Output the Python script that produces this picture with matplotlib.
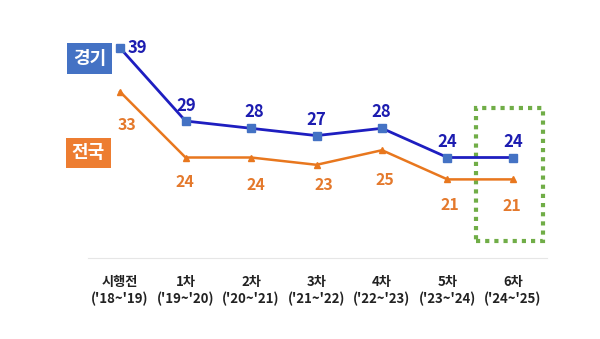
import matplotlib.pyplot as plt
from matplotlib.patches import Rectangle

plt.rcParams['font.family'] = ['Noto Sans CJK KR', 'DejaVu Sans']

#Data
periods = ['시행전', '1차', '2차', '3차', '4차', '5차', '6차']
years = ["('18~'19)", "('19~'20)", "('20~'21)", "('21~'22)", "('22~'23)", "('23~'24)", "('24~'25)"]
gyeonggi = [39, 29, 28, 27, 28, 24, 24]
national = [33, 24, 24, 23, 25, 21, 21]

#label offsets in pixels
gg_off = [(17, 0), (1, 15), (3, 16), (0, 16), (-1, 16), (0, 16), (0, 16)]
nat_off = [(7, -33), (-1, -24), (5, -27), (7, -20), (3, -30), (2, -26), (-1, -27)]

fig = plt.figure(figsize=(6, 3.39), dpi=100)
ax = fig.add_axes([88/600, 81/339, 459/600, 238/339])

x = list(range(len(periods)))
ax.plot(x, gyeonggi, color='#1e1ec0', lw=2, marker='s', ms=5.5,
        mfc='#4472C4', mec='#4472C4', zorder=3)
ax.plot(x, national, color='#E8771E', lw=1.8, marker='^', ms=5,
        mfc='#E8771E', mec='#E8771E', zorder=3)

for i in x:
    ax.annotate(str(gyeonggi[i]), (i, gyeonggi[i]), xytext=gg_off[i], textcoords='offset pixels',
                ha='center', va='center', fontsize=12, fontweight='bold', color='#1c1cb0')
    ax.annotate(str(national[i]), (i, national[i]), xytext=nat_off[i], textcoords='offset pixels',
                ha='center', va='center', fontsize=11.5, fontweight='bold', color='#E4792C')

ax.set_xlim(-0.49, 6.52)
ax.set_ylim(10.23, 42.84)
ax.set_yticks([])
ax.set_xticks(x)
ax.set_xticklabels([p + '\n' + y for p, y in zip(periods, years)], fontsize=9.5,
                   fontweight='bold', color='#222222', linespacing=1.25)
ax.tick_params(axis='x', length=0, pad=12)
for s in ['top', 'left', 'right']:
    ax.spines[s].set_visible(False)
ax.spines['bottom'].set_color('#e6e6e6')
ax.spines['bottom'].set_linewidth(0.8)

#highlight last period
last = len(periods) - 1
ax.add_patch(Rectangle((last - 0.565, 12.56), 1.02, 18.22, fill=False,
                       ec='#70AD47', lw=3, ls=(0, (1, 1.2)), zorder=2))

#series name boxes
fig.patches.append(Rectangle((67/600, 1 - 74/339), 45/600, 31/339, transform=fig.transFigure,
                             fc='#4472C4', ec='none'))
fig.text(89.5/600, 1 - 58.5/339, '경기', ha='center', va='center', fontsize=13,
         fontweight='bold', color='white')
fig.patches.append(Rectangle((66/600, 1 - 168/339), 45/600, 30/339, transform=fig.transFigure,
                             fc='#ED7D31', ec='none'))
fig.text(88.5/600, 1 - 153/339, '전국', ha='center', va='center', fontsize=13,
         fontweight='bold', color='white')

fig.savefig('out.png', dpi=100)
